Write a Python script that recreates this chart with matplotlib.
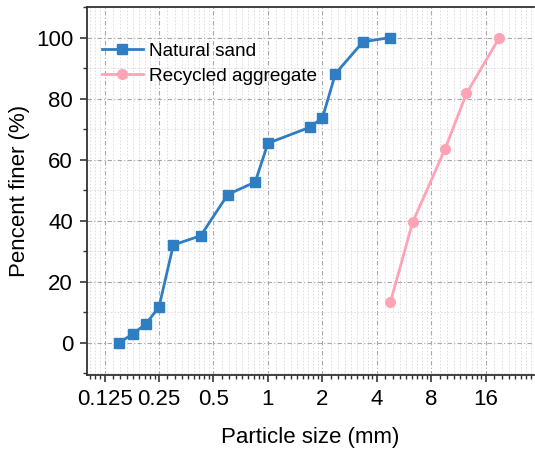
import numpy as np
import matplotlib
matplotlib.use("Agg")
import matplotlib.pyplot as plt
from matplotlib.ticker import FixedLocator, FixedFormatter, NullFormatter

plt.rcParams['font.family'] = ['Liberation Sans', 'DejaVu Sans']

# Sieve analysis data
sand_size = [0.15, 0.18, 0.212, 0.25, 0.3, 0.425, 0.6, 0.85, 1.0, 1.7, 2.0, 2.36, 3.35, 4.75]
sand_pass = [0, 3.0, 6.3, 11.8, 32.1, 35.1, 48.6, 52.7, 65.4, 70.6, 73.7, 88.2, 98.6, 100]

rca_size = [4.75, 6.3, 9.5, 12.5, 19.0]
rca_pass = [13.4, 39.5, 63.4, 81.7, 100]

x_ticks = [0.125, 0.25, 0.5, 1, 2, 4, 8, 16]
x_tick_labels = ['0.125', '0.25', '0.5', '1', '2', '4', '8', '16']
y_ticks = [0, 20, 40, 60, 80, 100]

blue = '#2f7dc3'
pink = '#ffa3b5'

fig = plt.figure(figsize=(5.35, 4.49), dpi=100)
ax = fig.add_axes([0.1626, 0.1648, 0.8355, 0.8196])

ax.plot(sand_size, sand_pass, '-s', color=blue, lw=2.0, ms=6.5,
        label='Natural sand', zorder=3)
ax.plot(rca_size, rca_pass, '-o', color=pink, lw=2.0, ms=7,
        label='Recycled aggregate', zorder=3)

ax.set_xscale('log', base=2)
ax.set_xlim(0.1, 29.5)
ax.set_ylim(-10.5, 110)

# Minor ticks: eight evenly spaced values inside each octave
minor = []
base = 0.0625
while base < 40:
    for k in range(1, 9):
        minor.append(base * (1 + k / 9))
    base *= 2
minor = [m for m in minor if 0.1 <= m <= 29.5]

ax.xaxis.set_major_locator(FixedLocator(x_ticks))
ax.xaxis.set_major_formatter(FixedFormatter(x_tick_labels))
ax.xaxis.set_minor_locator(FixedLocator(minor))
ax.xaxis.set_minor_formatter(NullFormatter())
ax.yaxis.set_major_locator(FixedLocator(y_ticks))
ax.yaxis.set_minor_locator(FixedLocator([-10, 10, 30, 50, 70, 90, 110]))

ax.grid(which='major', color='#a8a8a8', lw=0.8, linestyle=(0, (4, 2, 1, 2)))
ax.grid(which='minor', color='#dadada', lw=0.6, linestyle=(0, (2, 2)))
ax.set_axisbelow(True)

ax.spines['right'].set_visible(False)
for side in ['left', 'bottom', 'top']:
    ax.spines[side].set_color('#333333')
    ax.spines[side].set_linewidth(1.3)

ax.tick_params(which='major', direction='out', length=5, width=1.2,
               color='#333333', labelsize=16, pad=5)
ax.tick_params(which='minor', direction='out', length=3, width=1.0,
               color='#333333')

ax.set_xlabel('Particle size (mm)', fontsize=16, labelpad=12)
ax.set_ylabel('Pencent finer (%)', fontsize=16, labelpad=4)

ax.legend(loc='upper left', bbox_to_anchor=(0.007, 0.935), frameon=False,
          fontsize=13.7, handlelength=2.2, handletextpad=0.3,
          labelspacing=0.42, borderaxespad=0.2)

fig.savefig('out.png', dpi=100)
